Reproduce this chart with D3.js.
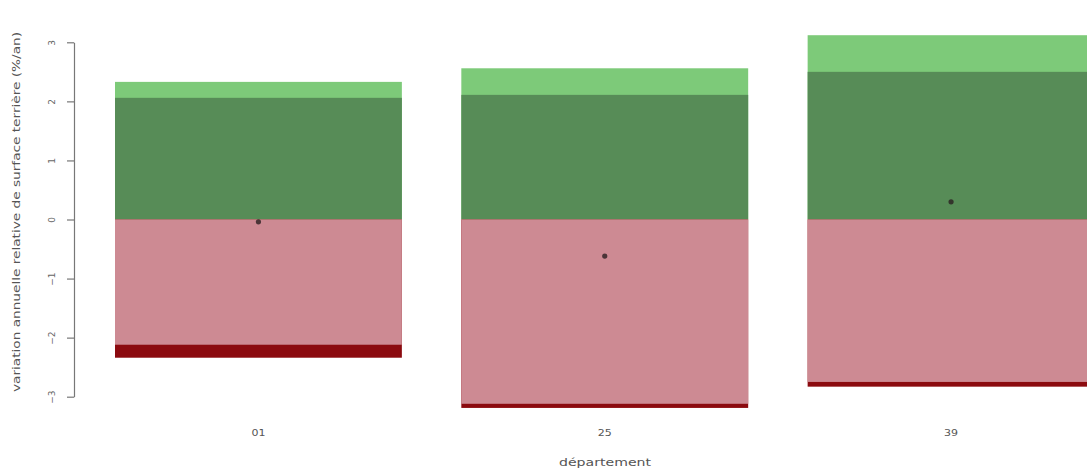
<!DOCTYPE html>
<html>
<head>
<meta charset="utf-8">
<script src="https://cdn.jsdelivr.net/npm/d3@7"></script>
<style>
  html, body { margin: 0; padding: 0; background: #fff; }
  svg { display: block; }
  text { font-family: "DejaVu Sans", sans-serif; fill: #555; }
</style>
</head>
<body>
<svg id="chart" width="1087" height="472"></svg>
<script>
// ---- data ----
const departements = ["01", "25", "39"];
const upperOuter = [2.33, 2.56, 3.12];   // light green top
const upperInner = [2.06, 2.11, 2.50];   // dark green top
const lowerInner = [-2.12, -3.12, -2.75]; // pink bottom
const lowerOuter = [-2.34, -3.19, -2.83]; // dark red bottom
const means = [-0.04, -0.62, 0.30];
const yTicks = [-3, -2, -1, 0, 1, 2, 3];
const yTitle = "variation annuelle relative de surface terrière (%/an)";
const xTitle = "département";

// ---- layout ----
const svg = d3.select("#chart");
const y = d3.scaleLinear().domain([-3, 3]).range([396.7, 42.3]);
const x = d3.scaleBand().domain(departements)
  .range([115, 1094.5]).paddingInner(0.1717).paddingOuter(0);

const rows = departements.map((d, i) => ({
  d, uo: upperOuter[i], ui: upperInner[i], li: lowerInner[i], lo: lowerOuter[i], m: means[i]
}));

function band(key, color) {
  svg.append("g").selectAll("rect").data(rows).join("rect")
    .attr("x", r => x(r.d))
    .attr("width", x.bandwidth())
    .attr("y", r => Math.min(y(0), y(r[key])))
    .attr("height", r => Math.abs(y(r[key]) - y(0)))
    .attr("fill", color);
}
band("uo", "#7dca79");
band("ui", "#578c57");
band("lo", "#8b0a0f");
band("li", "#cd8a93");

// mean points
svg.append("g").selectAll("circle").data(rows).join("circle")
  .attr("cx", r => x(r.d) + x.bandwidth() / 2)
  .attr("cy", r => y(r.m))
  .attr("r", 2.6)
  .attr("fill", "#2a1f22")
  .attr("opacity", 0.8);

// y axis
const yAxis = d3.axisLeft(y).tickValues(yTicks).tickSize(7).tickSizeOuter(0)
  .tickFormat(d3.format("d"));
const gy = svg.append("g").attr("transform", "translate(74,0)").call(yAxis);
gy.select(".domain").attr("stroke", "#777").attr("stroke-width", 1.2);
gy.selectAll(".tick line").attr("stroke", "#777").attr("stroke-width", 1.2);
gy.selectAll(".tick text")
  .attr("x", 0).attr("dy", null)
  .attr("transform", "translate(-22,0) rotate(-90)")
  .attr("text-anchor", "middle")
  .attr("dominant-baseline", "central")
  .style("font-size", "9px")
  .style("fill", "#666");

// x labels (no axis line)
svg.append("g").selectAll("text").data(departements).join("text")
  .attr("x", d => x(d) + x.bandwidth() / 2)
  .attr("y", 436)
  .attr("text-anchor", "middle")
  .attr("textLength", 14)
  .attr("lengthAdjust", "spacingAndGlyphs")
  .style("font-size", "9px")
  .style("fill", "#555")
  .text(d => d);

// titles
svg.append("text")
  .attr("x", 605).attr("y", 466)
  .attr("text-anchor", "middle")
  .attr("textLength", 92)
  .attr("lengthAdjust", "spacingAndGlyphs")
  .style("font-size", "10.5px")
  .style("fill", "#555")
  .text(xTitle);

svg.append("text")
  .attr("transform", "translate(16,212) rotate(-90)")
  .attr("text-anchor", "middle")
  .attr("dominant-baseline", "central")
  .attr("textLength", 360)
  .attr("lengthAdjust", "spacingAndGlyphs")
  .style("font-size", "10.5px")
  .style("fill", "#555")
  .text(yTitle);
</script>
</body>
</html>
